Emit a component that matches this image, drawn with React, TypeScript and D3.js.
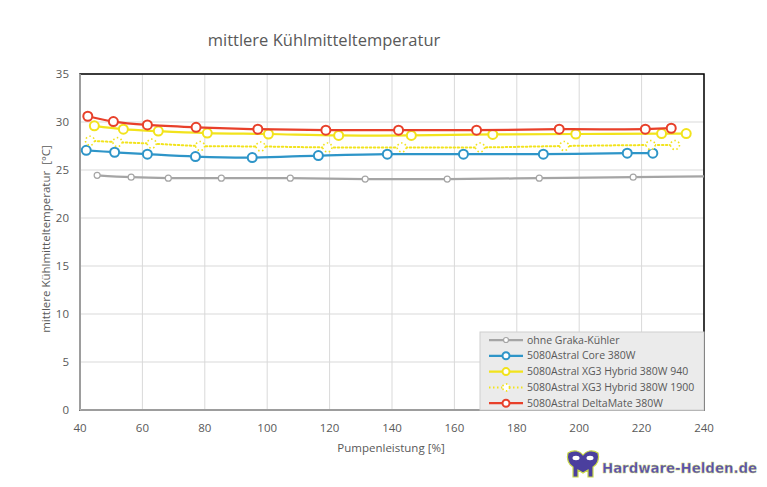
import React, { useEffect, useRef } from 'react'
import * as d3 from 'd3'

interface IPoint {
  x: number
  y: number
}

// Pumpenleistung [%] / Temperatur [°C]
const ohneGraka: IPoint[] = [
  { x: 45.5, y: 24.45 }, { x: 56.4, y: 24.25 }, { x: 68.3, y: 24.15 }, { x: 85.3, y: 24.15 },
  { x: 107.4, y: 24.15 }, { x: 131.4, y: 24.05 }, { x: 157.7, y: 24.05 }, { x: 187.2, y: 24.15 },
  { x: 217.3, y: 24.25 }, { x: 252, y: 24.4 }
]
const astralCore: IPoint[] = [
  { x: 42.0, y: 27.05 }, { x: 51.1, y: 26.85 }, { x: 61.6, y: 26.65 }, { x: 77.0, y: 26.4 },
  { x: 95.2, y: 26.3 }, { x: 116.4, y: 26.5 }, { x: 138.5, y: 26.65 }, { x: 162.9, y: 26.65 },
  { x: 188.5, y: 26.65 }, { x: 215.4, y: 26.75 }, { x: 223.6, y: 26.75 }
]
const xg3_940: IPoint[] = [
  { x: 44.6, y: 29.6 }, { x: 53.9, y: 29.25 }, { x: 65.1, y: 29.05 }, { x: 80.8, y: 28.85 },
  { x: 100.4, y: 28.75 }, { x: 122.9, y: 28.6 }, { x: 146.2, y: 28.6 }, { x: 172.3, y: 28.7 },
  { x: 198.9, y: 28.75 }, { x: 226.4, y: 28.8 }, { x: 234.3, y: 28.8 }
]
const xg3_1900: IPoint[] = [
  { x: 43.2, y: 28.05 }, { x: 52.0, y: 27.9 }, { x: 63.0, y: 27.75 }, { x: 78.5, y: 27.5 },
  { x: 97.9, y: 27.45 }, { x: 119.3, y: 27.35 }, { x: 143.1, y: 27.35 }, { x: 168.2, y: 27.35 },
  { x: 195.2, y: 27.5 }, { x: 222.9, y: 27.6 }, { x: 230.7, y: 27.6 }
]
const deltaMate: IPoint[] = [
  { x: 42.5, y: 30.6 }, { x: 50.7, y: 30.05 }, { x: 61.6, y: 29.7 }, { x: 77.2, y: 29.45 },
  { x: 97.0, y: 29.25 }, { x: 118.8, y: 29.15 }, { x: 142.1, y: 29.15 }, { x: 167.1, y: 29.15 },
  { x: 193.6, y: 29.25 }, { x: 221.2, y: 29.25 }, { x: 229.5, y: 29.35 }
]

const seriesNames = [
  'ohne Graka-Kühler',
  '5080Astral Core 380W',
  '5080Astral XG3 Hybrid 380W 940',
  '5080Astral XG3 Hybrid 380W 1900',
  '5080Astral DeltaMate 380W'
]
const xTicks = [40, 60, 80, 100, 120, 140, 160, 180, 200, 220, 240]
const yTicks = [0, 5, 10, 15, 20, 25, 30, 35]

const styles = [
  { color: '#a5a5a5', width: 2.25, r: 3, mw: 1.2, dash: '' },
  { color: '#2e95c8', width: 2.25, r: 4.5, mw: 2, dash: '' },
  { color: '#f2e31c', width: 2.25, r: 4.5, mw: 2, dash: '' },
  { color: '#f2e31c', width: 2, r: 4.5, mw: 1.6, dash: '1.5 2.5' },
  { color: '#e8402a', width: 2.25, r: 4.5, mw: 2, dash: '' }
]
const allSeries = [ohneGraka, astralCore, xg3_940, xg3_1900, deltaMate]

const W = 767
const H = 487
const margin = { top: 74, right: 63, bottom: 77, left: 80 }
const font = '"Open Sans", "Noto Sans", sans-serif'

const App = () => {
  const ref = useRef<SVGSVGElement>(null)

  useEffect(() => {
    const svg = d3.select(ref.current)
    svg.selectAll('*').remove()
    const bw = W - margin.left - margin.right
    const bh = H - margin.top - margin.bottom

    const x = d3.scaleLinear().domain([40, 240]).range([0, bw])
    const y = d3.scaleLinear().domain([0, 35]).range([bh, 0])

    svg.append('rect').attr('width', W).attr('height', H).attr('fill', '#fff')

    svg.append('defs').append('clipPath').attr('id', 'plotclip')
      .append('rect').attr('x', -6).attr('y', -6).attr('width', bw + 6).attr('height', bh + 6)

    const g = svg.append('g').attr('transform', `translate(${margin.left},${margin.top})`)

    // gridlines
    g.selectAll('.gy').data(yTicks).join('line')
      .attr('x1', 0).attr('x2', bw)
      .attr('y1', d => y(d)).attr('y2', d => y(d))
      .attr('stroke', '#d9d9d9').attr('stroke-width', 1)
    g.selectAll('.gx').data(xTicks).join('line')
      .attr('y1', 0).attr('y2', bh)
      .attr('x1', d => x(d)).attr('x2', d => x(d))
      .attr('stroke', '#d9d9d9').attr('stroke-width', 1)

    // plot area border
    g.append('rect').attr('width', bw).attr('height', bh)
      .attr('fill', 'none').attr('stroke', '#000').attr('stroke-width', 1.5)
    g.append('line').attr('x1', 0).attr('x2', bw).attr('y1', bh).attr('y2', bh)
      .attr('stroke', '#bfbfbf').attr('stroke-width', 1.5)
    g.append('line').attr('x1', 0).attr('x2', 0).attr('y1', 0).attr('y2', bh)
      .attr('stroke', '#bfbfbf').attr('stroke-width', 1.5)

    // tick labels
    g.selectAll('.ty').data(yTicks).join('text')
      .attr('x', -11).attr('y', d => y(d)).attr('dy', '0.35em')
      .attr('text-anchor', 'end').attr('font-family', font).attr('font-size', 11.5)
      .attr('fill', '#595959').text(d => d)
    g.selectAll('.tx').data(xTicks).join('text')
      .attr('x', d => x(d)).attr('y', bh + 18).attr('dy', '0.35em')
      .attr('text-anchor', 'middle').attr('font-family', font).attr('font-size', 11.5)
      .attr('fill', '#595959').text(d => d)

    // series
    const line = d3.line<IPoint>().x(d => x(d.x)).y(d => y(d.y)).curve(d3.curveCatmullRom.alpha(0.5))
    const plot = g.append('g').attr('clip-path', 'url(#plotclip)')
    allSeries.forEach((data, i) => {
      const s = styles[i]
      plot.append('path').attr('d', line(data)).attr('fill', 'none')
        .attr('stroke', s.color).attr('stroke-width', s.width)
        .attr('stroke-dasharray', s.dash || null).attr('stroke-linecap', s.dash ? 'round' : 'butt')
      plot.selectAll(null).data(data).join('circle')
        .attr('cx', d => x(d.x)).attr('cy', d => y(d.y)).attr('r', s.r)
        .attr('fill', '#fff').attr('stroke', s.color).attr('stroke-width', s.mw)
        .attr('stroke-dasharray', s.dash || null)
    })

    // legend
    const lx = x(Math.max(...xTicks)) - 224
    const ly = y(0) - 78
    const lg = g.append('g').attr('transform', `translate(${lx},${ly})`)
    lg.append('rect').attr('width', 224).attr('height', 78)
      .attr('fill', '#ebebeb').attr('stroke', '#d0d0d0').attr('stroke-width', 1)
    seriesNames.forEach((name, i) => {
      const s = styles[i]
      const ry = 8 + i * 15.8
      lg.append('line').attr('x1', 9).attr('x2', 43).attr('y1', ry).attr('y2', ry)
        .attr('stroke', s.color).attr('stroke-width', s.width)
        .attr('stroke-dasharray', s.dash || null)
      lg.append('circle').attr('cx', 26).attr('cy', ry).attr('r', i === 0 ? 2.5 : 3.5)
        .attr('fill', '#fff').attr('stroke', s.color).attr('stroke-width', s.mw)
        .attr('stroke-dasharray', s.dash || null)
      lg.append('text').attr('x', 47).attr('y', ry).attr('dy', '0.35em')
        .attr('font-family', font).attr('font-size', 10.5).attr('fill', '#595959').text(name)
    })

    // titles
    svg.append('text').attr('x', 324).attr('y', 40).attr('dy', '0.35em')
      .attr('text-anchor', 'middle').attr('font-family', font).attr('font-size', 16.5)
      .attr('fill', '#595959').text('mittlere Kühlmitteltemperatur')
    svg.append('text').attr('x', 391).attr('y', 448).attr('dy', '0.35em')
      .attr('text-anchor', 'middle').attr('font-family', font).attr('font-size', 11.5)
      .attr('fill', '#595959').text('Pumpenleistung [%]')
    svg.append('text').attr('transform', 'translate(46,239) rotate(-90)').attr('dy', '0.35em')
      .attr('text-anchor', 'middle').attr('font-family', font).attr('font-size', 11.5)
      .attr('xml:space', 'preserve').style('white-space', 'pre')
      .attr('fill', '#595959').text('mittlere Kühlmitteltemperatur  [°C]')

    // logo
    const logo = svg.append('g').attr('transform', 'translate(566,449)')
    logo.append('path')
      .attr('d', 'M2,4 C8,0 14,2 17,6 C20,2 26,0 32,4 C34,10 31,16 27,18 L27,28 L22,28 L22,21 L17,24 L12,21 L12,28 L7,28 L7,18 C3,16 0,10 2,4 Z')
      .attr('fill', '#4b3f9e').attr('stroke', '#c9d94a').attr('stroke-width', 1.2)
    logo.append('ellipse').attr('cx', 10).attr('cy', 9).attr('rx', 3.5).attr('ry', 2.2).attr('fill', '#fff')
    logo.append('ellipse').attr('cx', 24).attr('cy', 9).attr('rx', 3.5).attr('ry', 2.2).attr('fill', '#fff')
    svg.append('text').attr('x', 602).attr('y', 468).attr('dy', '0.35em')
      .attr('font-family', '"DejaVu Sans", sans-serif').attr('font-weight', 'bold').attr('font-size', 14)
      .attr('textLength', 155).attr('lengthAdjust', 'spacingAndGlyphs')
      .attr('fill', '#5a4fb0').attr('stroke', '#c9d94a').attr('stroke-width', 0.3)
      .text('Hardware-Helden.de')
  }, [])

  return (
    <svg
      ref={ref}
      width={W}
      height={H}
      style={{ position: 'absolute', left: 0, top: 0 }}
    />
  )
}

export default App
